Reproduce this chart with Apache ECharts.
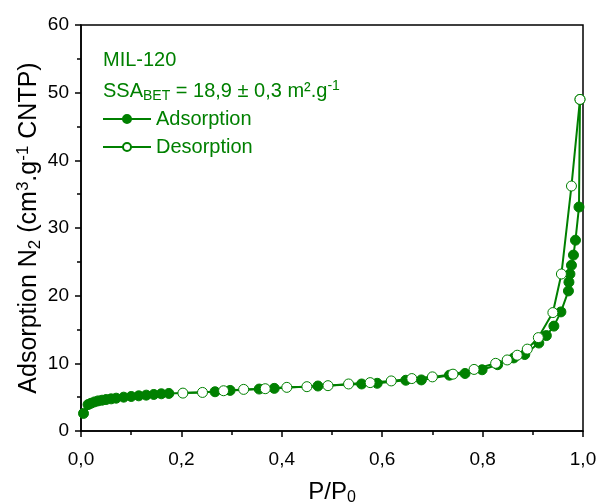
<!DOCTYPE html>
<html><head><meta charset="utf-8">
<script src="https://cdn.jsdelivr.net/npm/echarts@6/dist/echarts.min.js"></script>
<style>html,body{margin:0;padding:0;background:#fff}#c{width:601px;height:504px}</style>
</head><body><div id="c"></div>
<script>
var adsP = [0.005, 0.014, 0.02, 0.027, 0.034, 0.042, 0.05, 0.06, 0.07, 0.085, 0.10, 0.115, 0.13, 0.145, 0.16, 0.175, 0.267, 0.297, 0.355, 0.385, 0.472, 0.559, 0.59, 0.647, 0.678, 0.734, 0.765, 0.799, 0.83, 0.862, 0.884, 0.912, 0.927, 0.942, 0.956, 0.971, 0.972, 0.974, 0.977, 0.981, 0.985, 0.992, 0.994];
var adsV = [2.6, 3.9, 4.1, 4.3, 4.45, 4.55, 4.65, 4.75, 4.85, 5.0, 5.1, 5.2, 5.3, 5.4, 5.5, 5.55, 5.8, 6.0, 6.2, 6.3, 6.65, 6.95, 7.05, 7.5, 7.55, 8.25, 8.5, 9.05, 9.8, 10.8, 11.3, 13.0, 14.1, 15.5, 17.6, 20.7, 22.0, 23.2, 24.5, 26.0, 28.2, 33.1, 49.0];
var desP = [0.994, 0.977, 0.957, 0.940, 0.911, 0.889, 0.869, 0.849, 0.826, 0.783, 0.741, 0.700, 0.659, 0.618, 0.576, 0.533, 0.492, 0.450, 0.410, 0.367, 0.324, 0.284, 0.242, 0.203];
var desV = [49.0, 36.2, 23.2, 17.5, 13.8, 12.1, 11.2, 10.5, 10.0, 9.1, 8.4, 8.0, 7.75, 7.4, 7.15, 6.95, 6.7, 6.55, 6.45, 6.25, 6.15, 5.95, 5.7, 5.6];
var seriesNames = ['Adsorption', 'Desorption'];
var sampleName = 'MIL-120';

var GREEN = '#008000';
var FONT = 'Liberation Sans, Arial, sans-serif';
function pairs(xs, ys){ return xs.map(function(x,i){ return [x, ys[i]]; }); }

var chart = echarts.init(document.getElementById('c'), null, {renderer:'canvas'});
chart.setOption({
  animation: false,
  backgroundColor: '#fff',
  grid: {left: 81, right: 18, top: 25, bottom: 73, containLabel: false, outerBoundsMode: 'none',
    show: true, borderColor: '#000', borderWidth: 1.5, backgroundColor: 'transparent'},
  xAxis: {
    type: 'value', min: 0, max: 1, interval: 0.2,
    axisLine: {lineStyle: {color: '#000', width: 1.5}},
    axisTick: {length: 6, lineStyle: {color: '#000', width: 1.5}},
    minorTick: {show: true, splitNumber: 2, length: 4, lineStyle: {color: '#000', width: 1.5}},
    splitLine: {show: false},
    axisLabel: {color: '#000', fontSize: 19, fontFamily: FONT, margin: 19,
      formatter: function(v){ return v.toFixed(1).replace('.', ','); }},
    name: 'P/P{sub|0}', nameLocation: 'middle', nameGap: 47, nameMoveOverlap: false,
    nameTextStyle: {color: '#000', fontSize: 24, fontFamily: FONT,
      rich: {sub: {fontSize: 16, fontFamily: FONT, color: '#000', verticalAlign: 'bottom', padding: [12, 0, 0, 0]}}}
  },
  yAxis: {
    type: 'value', min: 0, max: 60, interval: 10,
    axisLine: {lineStyle: {color: '#000', width: 1.5}},
    axisTick: {length: 6, lineStyle: {color: '#000', width: 1.5}},
    minorTick: {show: true, splitNumber: 2, length: 4, lineStyle: {color: '#000', width: 1.5}},
    splitLine: {show: false},
    axisLabel: {color: '#000', fontSize: 19, fontFamily: FONT, margin: 12},
    name: 'Adsorption N{sub|2} (cm{sup|3}.g{sup|-1} CNTP)', nameLocation: 'middle', nameGap: 37, nameMoveOverlap: false,
    nameTextStyle: {color: '#000', fontSize: 25, fontFamily: FONT,
      rich: {
        sub: {fontSize: 17, fontFamily: FONT, color: '#000', verticalAlign: 'bottom', padding: [12, 0, 0, 0]},
        sup: {fontSize: 17, fontFamily: FONT, color: '#000', verticalAlign: 'top', padding: [0, 0, 12, 0]}
      }}
  },
  legend: {
    orient: 'vertical', left: 102, top: 109, padding: 0, itemWidth: 48, itemHeight: 10, itemGap: 8,
    textStyle: {color: GREEN, fontSize: 20, fontFamily: FONT},
    data: seriesNames
  },
  graphic: [
    {type: 'text', left: 103, top: 50, style: {text: sampleName, fill: GREEN, font: '20px ' + FONT}},
    {type: 'text', left: 103, top: 79, style: {
      text: 'SSA{sub|BET} = 18,9 ± 0,3 m².g{sup|-1}', fill: GREEN, font: '20px ' + FONT,
      rich: {
        sub: {fontSize: 14, fontFamily: FONT, fill: GREEN, verticalAlign: 'bottom', padding: [10, 0, 0, 0]},
        sup: {fontSize: 14, fontFamily: FONT, fill: GREEN, verticalAlign: 'top', padding: [0, 0, 10, 0]}
      }}}
  ],
  series: [
    {name: seriesNames[0], type: 'line', data: pairs(adsP, adsV), symbol: 'circle', symbolSize: 10, showAllSymbol: true,
      itemStyle: {color: GREEN, borderColor: GREEN, borderWidth: 1}, lineStyle: {color: GREEN, width: 2}, z: 2},
    {name: seriesNames[1], type: 'line', data: pairs(desP, desV), symbol: 'circle', symbolSize: 10, showAllSymbol: true,
      itemStyle: {color: '#fff', borderColor: GREEN, borderWidth: 1}, lineStyle: {color: GREEN, width: 2}, z: 3}
  ]
});
</script></body></html>
